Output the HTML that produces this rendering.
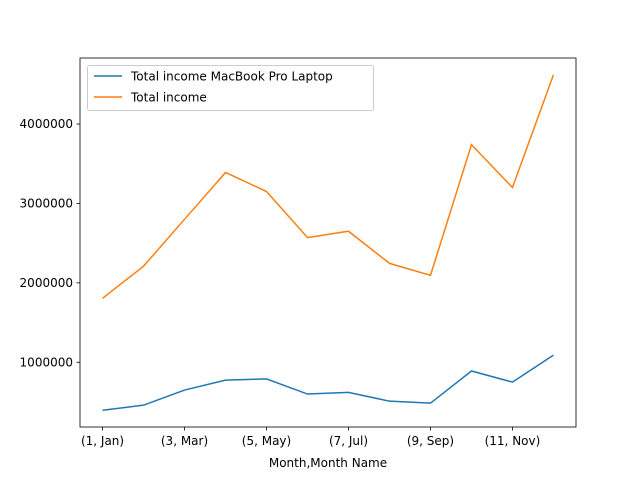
<!DOCTYPE html>
<html><head><meta charset="utf-8"><style>
body{margin:0;background:#fff;font-family:"DejaVu Sans","Liberation Sans",sans-serif;}
</style></head><body>
<svg id="chart" width="640" height="480" xmlns="http://www.w3.org/2000/svg" font-family="DejaVu Sans, Liberation Sans, sans-serif" font-size="12"></svg>
<script>
const categories=["(1, Jan)","(2, Feb)","(3, Mar)","(4, Apr)","(5, May)","(6, Jun)","(7, Jul)","(8, Aug)","(9, Sep)","(10, Oct)","(11, Nov)","(12, Dec)"];
const macbookIncome=[396000,460000,650000,775000,790000,600000,620000,510000,485000,890000,750000,1090000];
const totalIncome=[1805000,2210000,2800000,3390000,3150000,2570000,2650000,2245000,2095000,3740000,3200000,4620000];
const yTicks=[1000000,2000000,3000000,4000000];
const yTickLabels=["1000000","2000000","3000000","4000000"];
const xTickIdx=[0,2,4,6,8,10];

const svg=document.getElementById('chart');
const NS="http://www.w3.org/2000/svg";
const L=80,R=576,T=58,B=427;
const all=macbookIncome.concat(totalIncome);
const mn=Math.min(...all),mx=Math.max(...all),pad=(mx-mn)*0.05;
const y0=mn-pad,y1=mx+pad;
const n=categories.length,xp=(n-1)*0.05;
function xs(i){return L+(i+xp)/(n-1+2*xp)*(R-L);}
function ys(v){return B-(v-y0)/(y1-y0)*(B-T);}
function el(t,a){const e=document.createElementNS(NS,t);for(const k in a)e.setAttribute(k,a[k]);svg.appendChild(e);return e;}

const frame=el('rect',{x:L,y:T,width:R-L,height:B-T,fill:'none',stroke:'#000','stroke-width':0.8});



yTicks.forEach((v,i)=>{
  const y=ys(v);
  const tk=el('line',{x1:L-3.5,x2:L,y1:y,y2:y,stroke:'#000','stroke-width':0.8});
  
  
  const t=el('text',{x:L-7,y:y+4,'text-anchor':'end',fill:'#000'});
  t.textContent=yTickLabels[i];
  
  
});
xTickIdx.forEach(i=>{
  const x=xs(i);
  const tk=el('line',{x1:x,x2:x,y1:B,y2:B+3.5,stroke:'#000','stroke-width':0.8});
  
  
  const t=el('text',{x:x,y:B+18,'text-anchor':'middle',fill:'#000'});
  t.textContent=categories[i];
  
  
});
const xt=el('text',{x:(L+R)/2,y:467,'text-anchor':'middle',fill:'#000'});
xt.textContent="Month,Month Name";



function line(data,color,name){
  const p=el('polyline',{points:data.map((v,i)=>xs(i)+','+ys(v)).join(' '),fill:'none',stroke:color,'stroke-width':1.5});
  
  
}
line(macbookIncome,'#1f77b4','macbook-income-line');
line(totalIncome,'#ff7f0e','total-income-line');

const lg=el('rect',{x:87.5,y:65.5,width:286,height:45,rx:2,fill:'#fff','fill-opacity':0.8,stroke:'#ccc'});


[['Total income MacBook Pro Laptop','#1f77b4',76],['Total income','#ff7f0e',97]].forEach(([s,c,y])=>{
  const l=el('line',{x1:94,x2:122,y1:y,y2:y,stroke:c,'stroke-width':1.5});
  
  
  const t=el('text',{x:131,y:y+4.5,fill:'#000'});
  t.textContent=s;
  
  
});
</script>
</body></html>
